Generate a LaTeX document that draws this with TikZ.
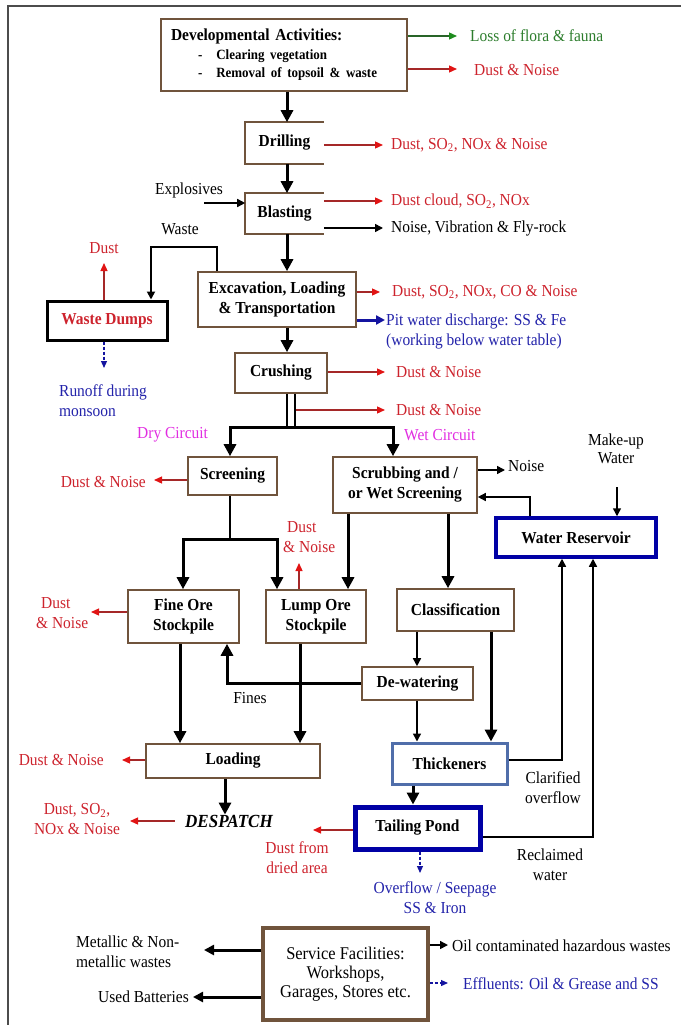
\documentclass[tikz,border=0pt]{standalone}
\usepackage{fontspec}
\setmainfont{Liberation Serif}[FakeStretch=0.92]
\usetikzlibrary{arrows.meta}
\definecolor{brownb}{RGB}{112,84,60}
\definecolor{rtxt}{RGB}{205,35,45}
\definecolor{rline}{RGB}{165,40,40}
\definecolor{rhead}{RGB}{225,20,20}
\definecolor{btxt}{RGB}{35,35,170}
\definecolor{bline}{RGB}{20,20,160}
\definecolor{magt}{RGB}{225,45,225}
\definecolor{gtxt}{RGB}{45,125,45}
\definecolor{gline}{RGB}{40,100,40}
\definecolor{ghead}{RGB}{30,140,30}
\definecolor{steelb}{RGB}{80,110,170}
\definecolor{navyb}{RGB}{0,0,165}
\newcommand\bxf{\fontsize{16.8}{20}\selectfont\bfseries}
\newcommand\lbf{\fontsize{16.8}{20}\selectfont}
\newcommand\smf{\fontsize{14.1}{18}\selectfont\bfseries}
\newcommand\svf{\fontsize{17.9}{19}\selectfont}
\newcommand\dspf{\fontsize{18.5}{20}\selectfont\bfseries\itshape}
\begin{document}
\begin{tikzpicture}[x=1pt,y=-1pt,
  box/.style={rectangle, draw=brownb, line width=1.6pt, inner sep=0pt, align=center, font=\bxf},
  lab/.style={inner sep=0pt, font=\lbf},
  thk/.style={line width=3pt, -{Triangle[length=12pt,width=12pt]}},
  thkboth/.style={line width=3pt, {Triangle[length=12pt,width=12pt]}-{Triangle[length=12pt,width=12pt]}},
  thkline/.style={line width=3pt},
  thn/.style={line width=1.5pt, -{Triangle[length=8pt,width=8pt]}},
  ra/.style={draw=rline, line width=1.3pt, -{Triangle[length=8pt,width=7pt,color=rhead]}},
  ga/.style={draw=gline, line width=1.3pt, -{Triangle[length=8pt,width=7pt,color=ghead]}},
  ba/.style={draw=bline, line width=1.2pt, dash pattern=on 3pt off 2pt, -{Triangle[length=7pt,width=6pt]}},
]
\useasboundingbox (0,0) rectangle (681,1025);
% frame
\coordinate (fBL) at (8,1025);
\coordinate (fTL) at (8,6);
\coordinate (fTR) at (681,6);
\draw[line width=2pt, black!70] (fBL) -- (fTL) -- (fTR);

% column / row helpers
\foreach \n/\v in {X91/91,X104/104,X122/122,X130/130,X151/151,X154/154,X180/180,X183/183,X193/193,X204/204,X217/217,X225/225,X227/227,X230/230,X277/277,X287/287,X295/295,X299/299,X300/300,X313/313,X348/348,X380/380,X383/383,X385/385,X393/393,X413/413,X417/417,X420/420,X448/448,X457/457,X491/491,X505/505,X530/530,X562/562,X593/593,X617/617}{\coordinate (\n) at (\v,0);}
\foreach \n/\v in {Y36/36,Y69/69,Y145/145,Y201/201,Y203/203,Y228/228,Y247/247,Y263/263,Y292/292,Y320/320,Y368/368,Y372/372,Y410/410,Y427/427,Y470/470,Y480/480,Y487/487,Y497/497,Y539/539,Y563/563,Y612/612,Y760/760,Y830/830,Y837/837,Y873/873,Y945/945,Y950/950,Y983/983,Y997/997}{\coordinate (\n) at (0,\v);}

% boxes
\node[box, minimum width=246pt, minimum height=72pt, text width=226pt, inner xsep=10pt, align=left] (dev) at (284,55)
  {Developmental Activities:\\[-1.5pt] {\smf\hspace*{27pt}-\hspace{14pt}Clearing vegetation}\\[-1.5pt] {\smf\hspace*{27pt}-\hspace{14pt}Removal of topsoil \& waste}};
\node[box, draw=none, minimum width=77pt, minimum height=40pt] (drill) at (284.5,143) {Drilling};
\node[box, draw=none, minimum width=77pt, minimum height=39pt] (blast) at (284.5,213.5) {Blasting};
\draw[brownb, line width=1.6pt] (drill.north east) -- (drill.north west) -- (drill.south west) -- (drill.south east);
\draw[brownb, line width=1.6pt] (blast.north east) -- (blast.north west) -- (blast.south west) -- (blast.south east);
\node[box, minimum width=158pt, minimum height=55pt] (excav) at (277,299.5) {Excavation, Loading\\\& Transportation};
\node[box, minimum width=92pt, minimum height=40pt] (crush) at (281,373) {Crushing};
\node[box, draw=black, line width=3pt, text=rtxt, minimum width=120pt, minimum height=39pt] (dumps) at (107,320.5) {Waste Dumps};
\node[box, minimum width=89pt, minimum height=38pt] (screen) at (232.5,476) {Screening};
\node[box, minimum width=144pt, minimum height=56pt] (scrub) at (405,485) {Scrubbing and /\\or Wet Screening};
\node[box, draw=navyb, line width=3.5pt, minimum width=160pt, minimum height=39pt] (reserv) at (576,537.5) {Water Reservoir};
\node[box, minimum width=111pt, minimum height=53pt] (fine) at (183.5,616.5) {Fine Ore\\Stockpile};
\node[box, minimum width=100pt, minimum height=53pt] (lump) at (316,616.5) {Lump Ore\\Stockpile};
\node[box, minimum width=117pt, minimum height=42pt] (classif) at (455.5,610) {Classification};
\node[box, minimum width=111pt, minimum height=33pt] (dewater) at (417.5,683.5) {De-watering};
\node[box, minimum width=174pt, minimum height=34pt] (loading) at (233,761) {Loading};
\node[box, draw=steelb, line width=3pt, minimum width=115pt, minimum height=41pt] (thick) at (449.5,763.5) {Thickeners};
\node[box, draw=navyb, line width=5pt, minimum width=125pt, minimum height=42pt] (tailing) at (417.5,828) {Tailing Pond};
\node[box, line width=3.5pt, font=\svf, minimum width=165pt, minimum height=92pt] (service) at (345.5,974) {Service Facilities:\\Workshops,\\Garages, Stores etc.};
\node[inner sep=0pt, inner xsep=10pt, font=\dspf] (desp) at (229,821) {DESPATCH};

% free ends
\coordinate (eLoss) at (457,36);
\coordinate (eDN1) at (457,69);
\coordinate (sExpl) at (204,203);
\coordinate (dblS) at (296,410);
\coordinate (sL) at (230,427);
\coordinate (sR) at (393,427);
\coordinate (sj) at (230,539);
\coordinate (mkS) at (617,487);

% main flow
\draw[thk] (dev.south -| X287) -- (drill.north -| X287);
\draw[thk] (drill.south -| X287) -- (blast.north -| X287);
\draw[thk] (blast.south -| X287) -- (excav.north -| X287);
\draw[thk] (excav.south -| X287) -- (crush.north -| X287);
\draw[line width=2.6pt] (crush.south -| X287) -- (sL -| X287);
\draw[line width=2.6pt] (crush.south -| X295) -- (sL -| X295);
\draw[thkboth] (screen.north -| sL) -- (sL) -- (sR) -- (scrub.north -| sR);
\draw[line width=1.6pt] (screen.south -| sj) -- (sj);
\draw[thkboth] (fine.north -| X183) -- (X183 |- sj) -- (X277 |- sj) -- (lump.north -| X277);
\draw[thk] (scrub.south -| X348) -- (lump.north -| X348);
\draw[thk] (scrub.south -| X448) -- (classif.north -| X448);
\draw[thn] (classif.south -| X417) -- (dewater.north -| X417);
\draw[thn] (dewater.south -| X417) -- (thick.north -| X417);
\draw[thk] (classif.south -| X491) -- (thick.north -| X491);
\draw[thk] (dewater.west) -- (dewater.west -| X227) -- (fine.south -| X227);
\draw[thk] (fine.south -| X180) -- (loading.north -| X180);
\draw[thk] (lump.south -| X300) -- (loading.north -| X300);
\draw[thk] (loading.south -| X225) -- (desp.north -| X225);
\draw[thk] (thick.south -| X413) -- (tailing.north -| X413);
\draw[thn] (thick.east |- Y760) -- (X562 |- Y760) -- (reserv.south -| X562);
\draw[thn] (tailing.east |- Y837) -- (X593 |- Y837) -- (reserv.south -| X593);
\draw[thn] (reserv.north -| X530) -- (X530 |- Y497) -- (scrub.east |- Y497);
\draw[thn] (mkS) -- (reserv.north -| X617);
\draw[line width=1.8pt, -{Triangle[length=8pt,width=8pt]}] (excav.north -| X217) -- (X217 |- Y247) -- (X151 |- Y247) -- (dumps.north -| X151);
\draw[thn] (sExpl) -- (blast.west |- Y203);
\draw[thn] (scrub.east |- Y470) -- (X505 |- Y470);
\draw[thn] (blast.east |- Y228) -- (X383 |- Y228);

% emission arrows
\draw[ga] (dev.east |- Y36) -- (eLoss);
\draw[ra] (dev.east |- Y69) -- (eDN1);
\draw[ra] (drill.east |- Y145) -- (X383 |- Y145);
\draw[ra] (blast.east |- Y201) -- (X383 |- Y201);
\draw[ra] (excav.east |- Y292) -- (X380 |- Y292);
\draw[draw=bline, line width=3pt, -{Triangle[length=9pt,width=9pt]}] (excav.east |- Y320) -- (X385 |- Y320);
\draw[ra] (crush.east |- Y372) -- (X385 |- Y372);
\draw[ra] (dblS) -- (X385 |- Y410);
\draw[ra] (dumps.north -| X104) -- (X104 |- Y263);
\draw[ba] (dumps.south -| X104) -- (X104 |- Y368);
\draw[ra] (screen.west |- Y480) -- (X154 |- Y480);
\draw[ra] (lump.north -| X299) -- (X299 |- Y563);
\draw[ra] (fine.west |- Y612) -- (X91 |- Y612);
\draw[ra] (loading.west |- Y760) -- (X122 |- Y760);
\draw[ra] (desp.west) -- (X130 |- desp.west);
\draw[ra] (tailing.west |- Y830) -- (X313 |- Y830);
\draw[ba] (tailing.south -| X420) -- (X420 |- Y873);
\draw[line width=3pt, -{Triangle[length=10pt,width=10pt]}] (service.west |- Y950) -- (X204 |- Y950);
\draw[line width=3pt, -{Triangle[length=10pt,width=10pt]}] (service.west |- Y997) -- (X193 |- Y997);
\draw[thn] (service.east |- Y945) -- (X448 |- Y945);
\draw[ba] (service.east |- Y983) -- (X448 |- Y983);

% labels
\node[lab, text=gtxt, anchor=west] (tloss) at (470,36) {Loss of flora \& fauna};
\node[lab, text=rtxt, anchor=west] (tdn1) at (474,70) {Dust \& Noise};
\node[lab, text=rtxt, anchor=west] (tdrill) at (391,145) {Dust, SO\textsubscript{2}, NOx \& Noise};
\node[lab] (texpl) at (189,190) {Explosives};
\node[lab, text=rtxt, anchor=west] (tbl1) at (391,201) {Dust cloud, SO\textsubscript{2}, NOx};
\node[lab, anchor=west] (tbl2) at (391,228) {Noise, Vibration \& Fly-rock};
\node[lab] (twaste) at (180,229) {Waste};
\node[lab, text=rtxt] (tddust) at (104,248) {Dust};
\node[lab, text=rtxt, anchor=west] (tex1) at (392,292) {Dust, SO\textsubscript{2}, NOx, CO \& Noise};
\node[lab, text=btxt, anchor=west, align=left] (tex2) at (386,331) {Pit water discharge: SS \& Fe\\(working below water table)};
\node[lab, text=btxt, anchor=west, align=left] (trun) at (59,401) {Runoff during\\monsoon};
\node[lab, text=rtxt, anchor=west] (tcr1) at (396,372) {Dust \& Noise};
\node[lab, text=rtxt, anchor=west] (tcr2) at (396,410) {Dust \& Noise};
\node[lab, text=magt, anchor=west] (tdry) at (137,435) {Dry Circuit};
\node[lab, text=magt, anchor=west] (twet) at (404,435) {Wet Circuit};
\node[lab, align=center, font=\fontsize{16.8}{18}\selectfont] (tmk) at (616,449) {Make-up\\Water};
\node[lab, text=rtxt, anchor=east] (tscr) at (146,482) {Dust \& Noise};
\node[lab, anchor=west] (tnoise) at (508,466) {Noise};
\node[lab, text=rtxt, anchor=west, align=left] (tlump) at (283,537) {\hspace*{4pt}Dust\\\& Noise};
\node[lab, text=rtxt, anchor=west, align=left] (tfine) at (36,613) {\hspace*{5pt}Dust\\\& Noise};
\node[lab] (tfines) at (250,698) {Fines};
\node[lab, text=rtxt, anchor=east] (tload) at (104,760) {Dust \& Noise};
\node[lab, text=rtxt, align=center] (tdesp) at (77,819) {Dust, SO\textsubscript{2},\\NOx \& Noise};
\node[lab, align=center] (tclar) at (553,788) {Clarified\\overflow};
\node[lab, text=rtxt, align=center] (tdried) at (297,858) {Dust from\\dried area};
\node[lab, align=center] (trecl) at (550,865) {Reclaimed\\water};
\node[lab, text=btxt, align=center] (tover) at (435,898) {Overflow / Seepage\\SS \& Iron};
\node[lab, anchor=west, align=left] (tmet) at (76,952) {Metallic \& Non-\\metallic wastes};
\node[lab, anchor=east] (tbat) at (189,997) {Used Batteries};
\node[lab, anchor=west] (toil) at (452,946) {Oil contaminated hazardous wastes};
\node[lab, text=btxt, anchor=west] (teff) at (463,984) {Effluents: Oil \& Grease and SS};
\end{tikzpicture}
\end{document}
